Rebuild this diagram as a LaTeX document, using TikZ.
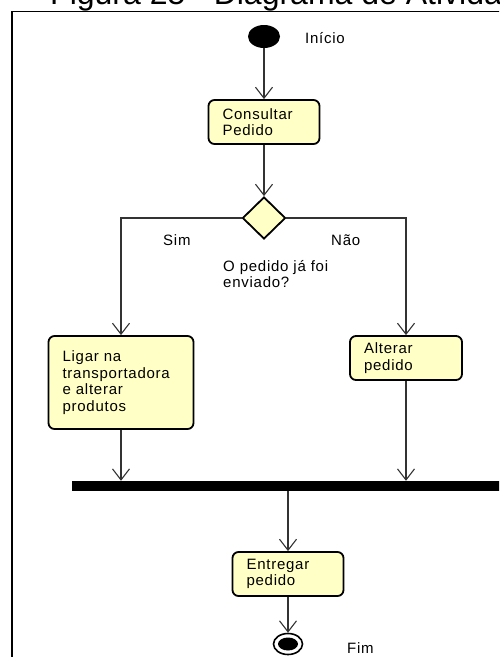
\documentclass[tikz,border=0pt]{standalone}
\usepackage{fontspec}
\setmainfont{Liberation Sans}
\newfontfamily\umlfont[LetterSpace=5]{Liberation Sans}
\newcommand\umltext{\umlfont\fontsize{15}{16.5}\selectfont}
\newcommand\umltitle{\fontsize{32}{38}\selectfont}
\usetikzlibrary{shapes.geometric,arrows.meta}
\definecolor{actfill}{HTML}{FFFFC6}
\definecolor{flowcol}{HTML}{333333}
\begin{document}
\begin{tikzpicture}[x=1pt,y=-1pt,
  act/.style={draw=black, line width=1.8pt, rounded corners=6pt, fill=actfill,
    align=left, inner xsep=14pt, inner ysep=0pt, font=\umltext},
  lbl/.style={inner sep=0pt, font=\umltext},
  flow/.style={draw=flowcol, line width=1.1pt,
    -{Straight Barb[length=11pt,width=17pt,line width=1.1pt]}}]
\useasboundingbox (0,0) rectangle (499,657);
\clip (0,0) rectangle (499,657);
% frame and title
\draw[line width=1.4pt] (12,700) -- (12,11.5) -- (540,11.5);
\node[anchor=base west, inner sep=0pt, font=\umltitle] (title) at (50,4) {Figura 25 - Diagrama de Atividade};
% nodes
\node[ellipse, fill=black, minimum width=32pt, minimum height=23pt, inner sep=0pt] (ini) at (264,36.5) {};
\node[act, text width=83pt, minimum height=44pt] (consultar) at (264,122) {Consultar\\Pedido};
\node[diamond, draw=black, line width=1.8pt, fill=actfill, minimum width=43pt, minimum height=42pt, inner sep=0pt] (dec) at (264,218) {};
\node[act, text width=117pt, minimum height=93pt] (ligar) at (121,382.5) {Ligar na\\transportadora\\e alterar\\produtos};
\node[act, text width=84pt, minimum height=44pt] (alterar) at (406,358) {Alterar\\pedido};
\node[fill=black, minimum width=440pt, minimum height=10pt, inner sep=0pt] (bar) at (292,486) {};
\node[act, text width=83pt, minimum height=44pt] (entregar) at (288,574) {Entregar\\pedido};
\node[ellipse, draw=black, line width=1.6pt, fill=white, minimum width=29pt, minimum height=21pt, inner sep=0pt] (fim) at (288,644) {};
\node[ellipse, fill=black, minimum width=20pt, minimum height=13pt, inner sep=0pt] (fimdot) at (fim.center) {};
% labels
\node[lbl, anchor=base west] (linicio) at (305,43) {Início};
\node[lbl, anchor=base west] (lsim) at (163,245) {Sim};
\node[lbl, anchor=base west] (lnao) at (331,245) {Não};
\node[lbl, anchor=north west, align=left] (lq) at (223,260) {O pedido já foi\\enviado?};
\node[lbl, anchor=base west] (lfim) at (347,653) {Fim};
% connectors
\draw[flow] (ini.south) -- (consultar.north);
\draw[flow] (consultar.south) -- (dec.north);
\draw[flow] (dec.west) -| (ligar.north);
\draw[flow] (dec.east) -| (alterar.north);
\draw[flow] (ligar.south) -- (ligar.south |- bar.north);
\draw[flow] (alterar.south) -- (alterar.south |- bar.north);
\draw[flow] (entregar.north |- bar.south) -- (entregar.north);
\draw[flow] (entregar.south) -- (fim.north);
\end{tikzpicture}
\end{document}
